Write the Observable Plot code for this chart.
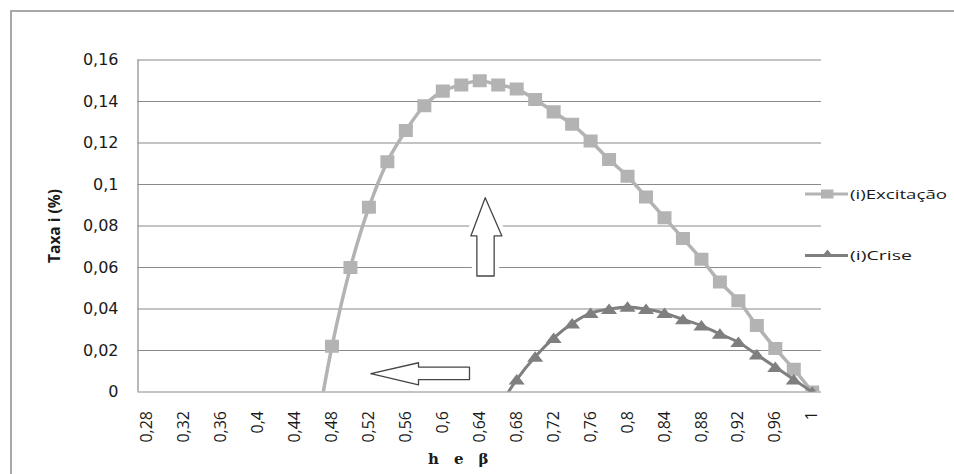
<!DOCTYPE html>
<html>
<head>
<meta charset="utf-8">
<script src="https://cdn.jsdelivr.net/npm/d3@7"></script>
<script src="https://cdn.jsdelivr.net/npm/@observablehq/plot@0.6"></script>
<style>
html, body { margin: 0; padding: 0; background: #fff; overflow: hidden; }
#wrap { position: relative; width: 954px; height: 474px; overflow: hidden; background: #fff; }
#frame { position: absolute; left: 10px; top: 10px; width: 1000px; height: 520px; border: 2px solid #a8a8a8; box-sizing: border-box; }
#chart { position: absolute; left: 0; top: 0; }
</style>
</head>
<body>
<div id="wrap"><div id="frame"></div><div id="chart"></div></div>
<script>
// ---- data ----
const hValues = [0.28, 0.30, 0.32, 0.34, 0.36, 0.38, 0.40, 0.42, 0.44, 0.46,
                 0.48, 0.50, 0.52, 0.54, 0.56, 0.58, 0.60, 0.62, 0.64, 0.66,
                 0.68, 0.70, 0.72, 0.74, 0.76, 0.78, 0.80, 0.82, 0.84, 0.86,
                 0.88, 0.90, 0.92, 0.94, 0.96, 0.98, 1.00];
const excitacao = [null, null, null, null, null, null, null, null, null, -0.027,
                   0.022, 0.060, 0.089, 0.111, 0.126, 0.138, 0.145, 0.148, 0.150, 0.148,
                   0.146, 0.141, 0.135, 0.129, 0.121, 0.112, 0.104, 0.094, 0.084, 0.074,
                   0.064, 0.053, 0.044, 0.032, 0.021, 0.011, 0.000];
const crise = [null, null, null, null, null, null, null, null, null, null,
               null, null, null, null, null, null, null, null, null, -0.008,
               0.006, 0.017, 0.026, 0.033, 0.038, 0.040, 0.041, 0.040, 0.038, 0.035,
               0.032, 0.028, 0.024, 0.018, 0.012, 0.006, 0.000];
const seriesNames = ["(i)Excitação", "(i)Crise"];
const xTicks = [0.28, 0.32, 0.36, 0.40, 0.44, 0.48, 0.52, 0.56, 0.60, 0.64,
                0.68, 0.72, 0.76, 0.80, 0.84, 0.88, 0.92, 0.96, 1.00];
const yTicks = [0, 0.02, 0.04, 0.06, 0.08, 0.10, 0.12, 0.14, 0.16];
const yTitle = "Taxa i (%)";
const xTitle = "h\u2003e\u2003β";
// annotation arrows, in data units (h, taxa)
const upArrow = [[0.6459, 0.0936], [0.6640, 0.0752], [0.6556, 0.0752], [0.6556, 0.0559],
                 [0.6369, 0.0559], [0.6369, 0.0752], [0.6304, 0.0752], [0.6459, 0.0936]];
const leftArrow = [[0.5222, 0.0088], [0.5737, 0.0141], [0.5737, 0.0120], [0.6289, 0.0120],
                   [0.6289, 0.0060], [0.5737, 0.0060], [0.5737, 0.0034], [0.5222, 0.0088]];

// ---- build ----
const table = hValues.map((h, i) => ({h, exc: excitacao[i], cri: crise[i]}));
const fmt = d => String(+d.toFixed(2)).replace(".", ",");

const C_EXC = "#b3b3b3";
const C_CRI = "#7f7f7f";
const C_GRID = "#8a8a8a";

const squareSym = {draw(ctx, size) { const r = Math.sqrt(size / Math.PI); ctx.rect(-r, -0.93 * r, 2 * r, 1.86 * r); }};
const triSym = {draw(ctx, size) { const r = Math.sqrt(size / Math.PI);
  ctx.moveTo(0, -0.8 * r); ctx.lineTo(1.15 * r, 0.7 * r); ctx.lineTo(-1.15 * r, 0.7 * r); ctx.closePath(); }};

const plot = Plot.plot({
  width: 954,
  height: 474,
  marginLeft: 137.5,
  marginRight: 133,
  marginTop: 59.5,
  marginBottom: 82.5,
  x: {domain: [0.27, 1.01]},
  y: {domain: [0, 0.16]},
  style: {background: "transparent", color: "#1a1a1a", overflow: "visible"},
  marks: [
    Plot.ruleY(yTicks, {stroke: C_GRID, strokeWidth: 1.2, strokeOpacity: 1}),
    Plot.ruleX([0.27], {stroke: C_GRID, strokeWidth: 1.2}),
    Plot.axisY({ticks: yTicks, tickFormat: fmt, tickSize: 0, tickPadding: 19.5,
                fontSize: 16, fontFamily: "DejaVu Sans", label: null}),
    Plot.axisX({ticks: xTicks, tickFormat: fmt, tickRotate: -90, tickSize: 0, tickPadding: 19,
                fontSize: 16, fontFamily: "Open Sans", label: null}),
    // arrows (white halo then outline)
    Plot.line(upArrow, {x: d => d[0], y: d => d[1], stroke: "white", strokeWidth: 10, fill: "white"}),
    Plot.line(upArrow, {x: d => d[0], y: d => d[1], stroke: "#454545", strokeWidth: 1.3, fill: "white"}),
    Plot.line(leftArrow, {x: d => d[0], y: d => d[1], stroke: "white", strokeWidth: 8, fill: "white"}),
    Plot.line(leftArrow, {x: d => d[0], y: d => d[1], stroke: "#454545", strokeWidth: 1.3, fill: "white"}),
    // series
    Plot.line(table, {x: "h", y: "exc", stroke: C_EXC, strokeWidth: 3.5, curve: "catmull-rom", clip: true}),
    Plot.dot(table, {x: "h", y: "exc", symbol: squareSym, r: 7, fill: C_EXC, stroke: "none", clip: true}),
    Plot.line(table, {x: "h", y: "cri", stroke: C_CRI, strokeWidth: 3, curve: "catmull-rom", clip: true}),
    Plot.dot(table, {x: "h", y: "cri", symbol: triSym, r: 7, fill: C_CRI, stroke: "none", clip: true}),
    // titles
    Plot.text([yTitle], {text: d => d, frameAnchor: "left", dx: -82.5, rotate: -90, textAnchor: "middle",
                         lineAnchor: "middle", fontWeight: "bold", fontSize: 15.5, fontFamily: "Open Sans", fill: "#1a1a1a"}),
    Plot.text([xTitle], {text: d => d, frameAnchor: "bottom", dx: -21.5, dy: 67, textAnchor: "middle",
                         lineAnchor: "middle", fontWeight: "bold", fontSize: 15, fontFamily: "DejaVu Serif", fill: "#1a1a1a"})
  ]
});

// ---- legend ----
const svg = d3.select(plot);
const lg = svg.append("g").attr("class", "legend").attr("text-anchor", "start");
const legendItems = [
  {name: seriesNames[0], color: C_EXC, y: 194, kind: "square", len: 97},
  {name: seriesNames[1], color: C_CRI, y: 255.5, kind: "triangle", len: 62}
];
legendItems.forEach(it => {
  lg.append("line").attr("x1", 805).attr("x2", 848).attr("y1", it.y).attr("y2", it.y)
    .attr("stroke", it.color).attr("stroke-width", 3);
  if (it.kind === "square") {
    lg.append("rect").attr("x", 821).attr("y", it.y - 4.5).attr("width", 12.5).attr("height", 9).attr("fill", it.color);
  } else {
    lg.append("path").attr("d", `M827.5,${it.y - 6}L833.3,${it.y + 1.2}L821.7,${it.y + 1.2}Z`).attr("fill", it.color);
  }
  lg.append("text").attr("x", 850).attr("y", it.y + 4.5).attr("text-anchor", "start")
    .attr("font-family", "Open Sans").attr("font-size", 12.5).attr("fill", "#1a1a1a")
    .attr("textLength", it.len).attr("lengthAdjust", "spacingAndGlyphs")
    .text(it.name);
});

document.getElementById("chart").appendChild(plot);
</script>
</body>
</html>
